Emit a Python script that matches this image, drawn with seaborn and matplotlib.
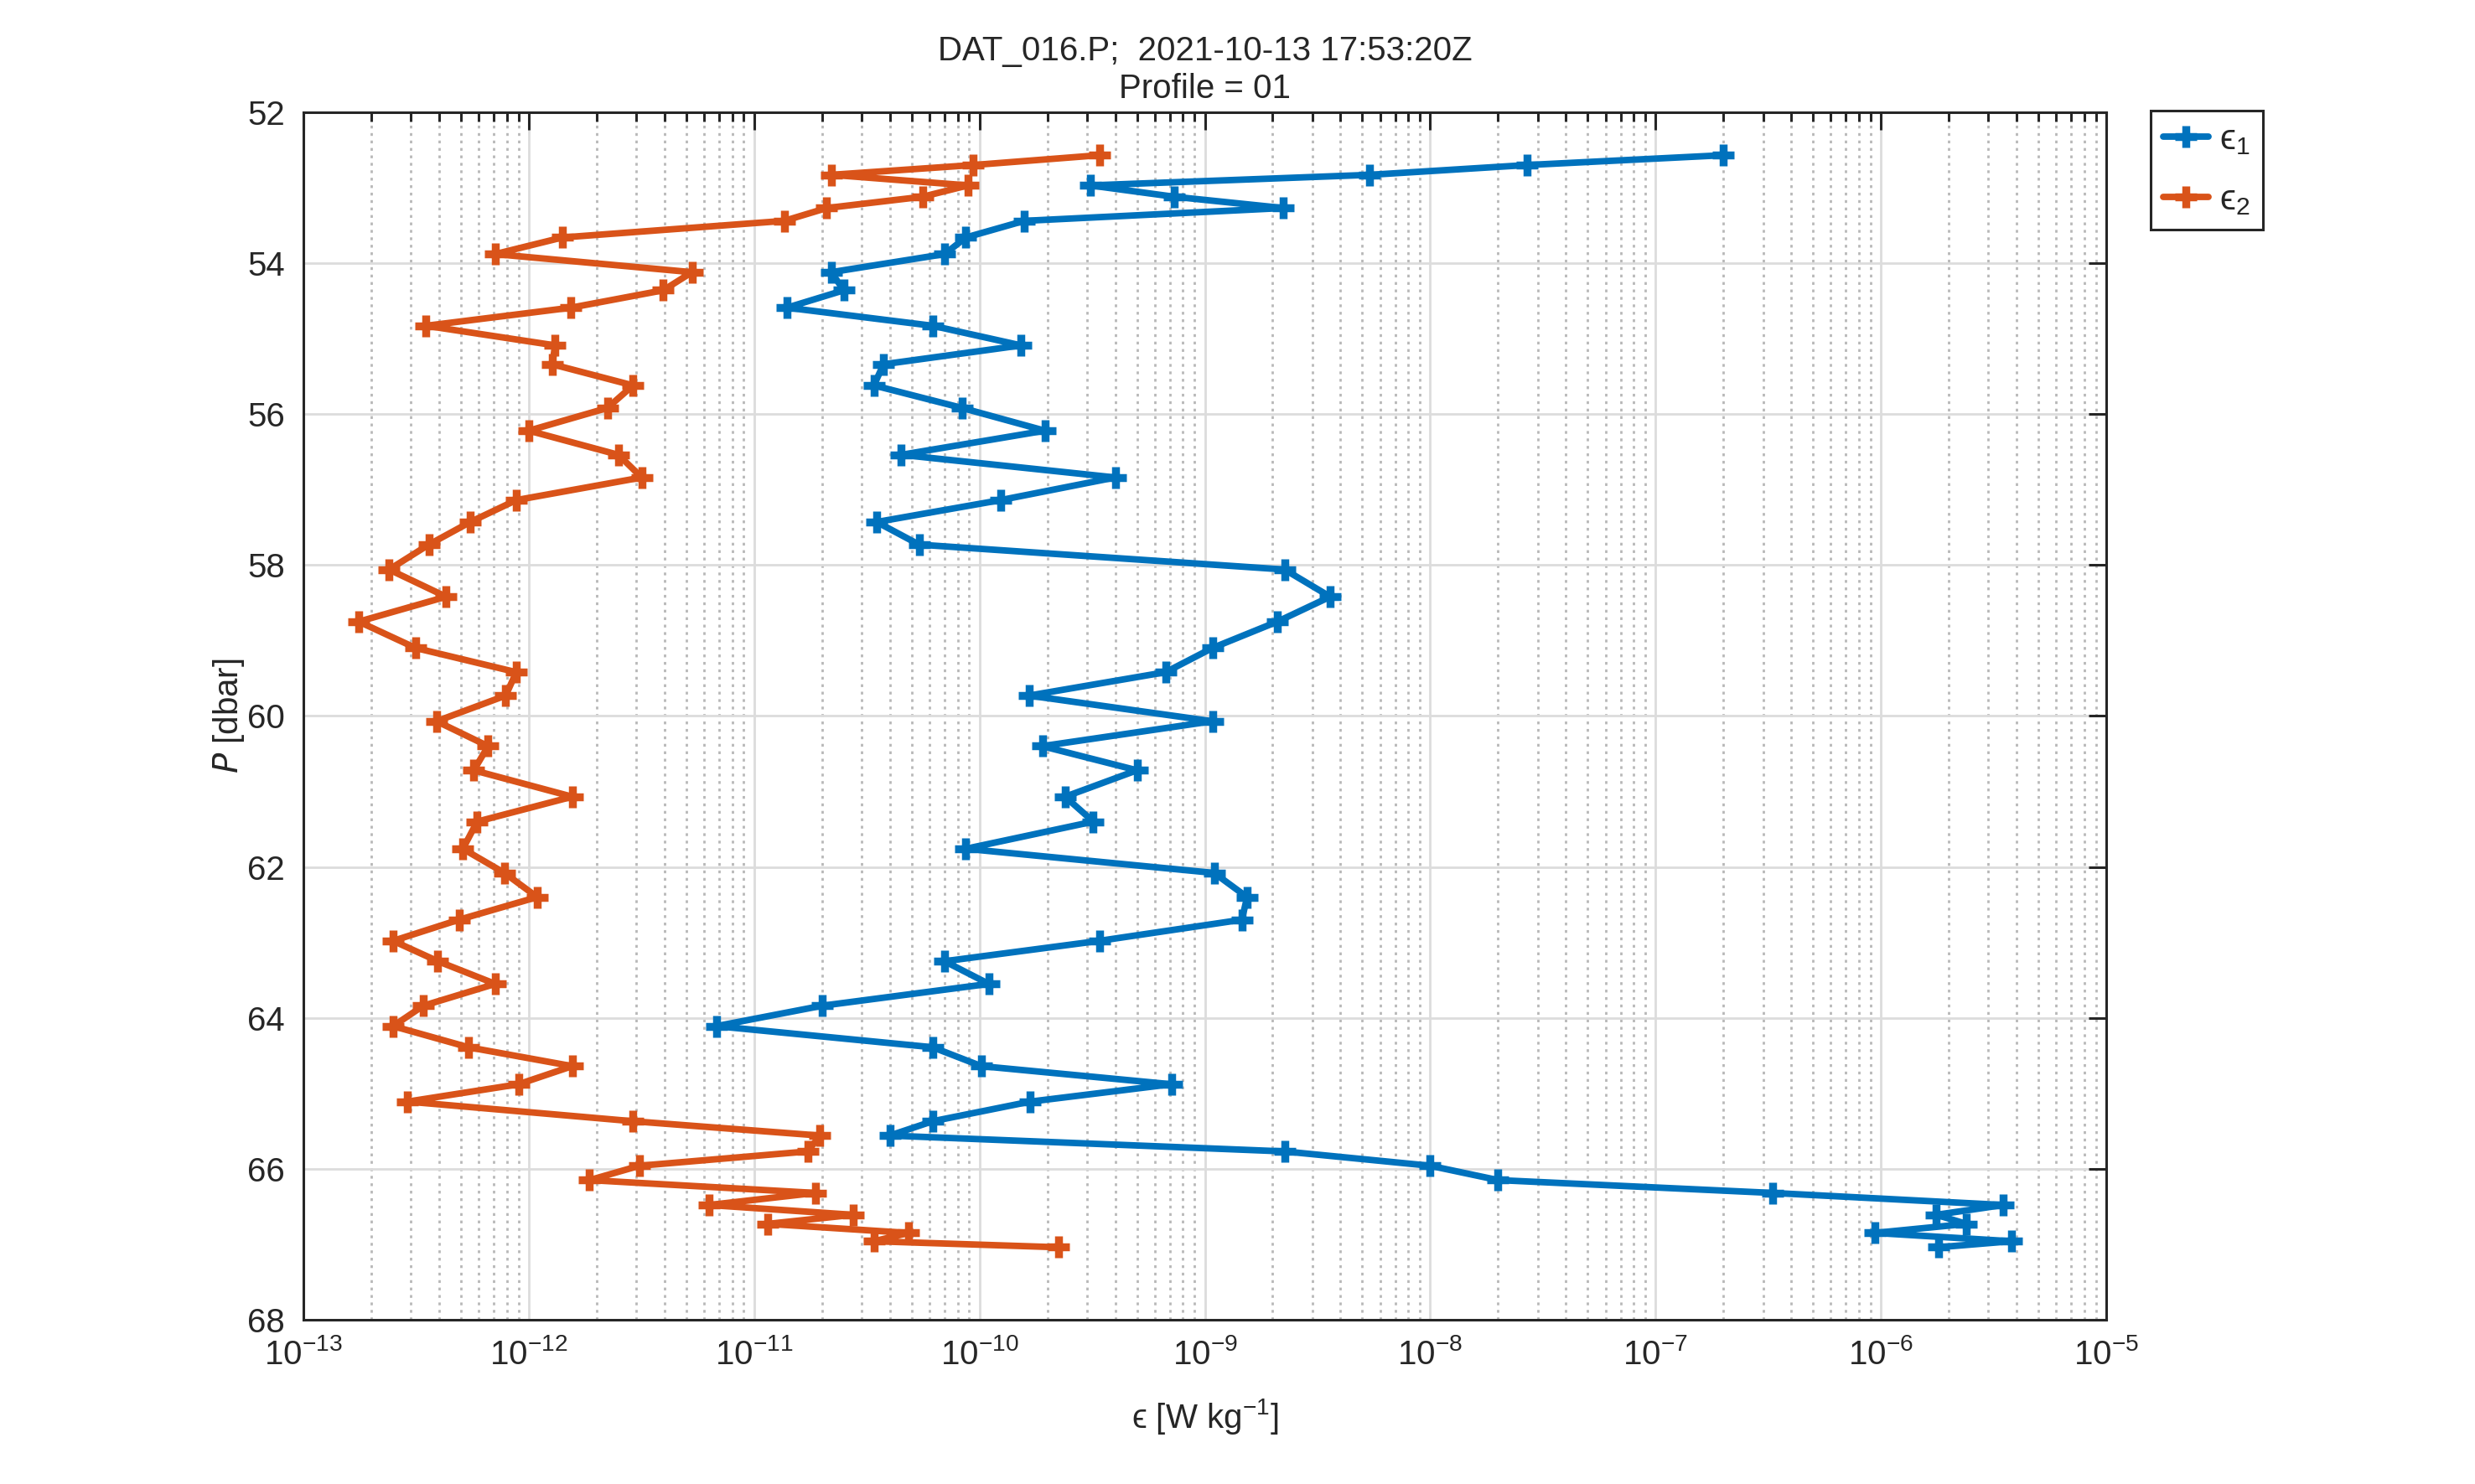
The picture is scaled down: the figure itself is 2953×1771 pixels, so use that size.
import numpy as np
import pandas as pd
import seaborn as sns
import matplotlib.pyplot as plt
from matplotlib.ticker import LogLocator, NullFormatter, FixedLocator

# pressure of each dissipation estimate [dbar]
pressure = [52.57, 52.70, 52.83, 52.97, 53.12, 53.27, 53.44, 53.66, 53.88, 54.12,
            54.36, 54.59, 54.83, 55.09, 55.34, 55.62, 55.92, 56.22, 56.54, 56.84,
            57.14, 57.43, 57.73, 58.06, 58.42, 58.75, 59.10, 59.42, 59.73, 60.07,
            60.40, 60.72, 61.07, 61.40, 61.76, 62.08, 62.40, 62.70, 62.98, 63.25,
            63.55, 63.84, 64.11, 64.39, 64.64, 64.88, 65.11, 65.37, 65.56, 65.77,
            65.96, 66.15, 66.32, 66.48, 66.61, 66.73, 66.85, 66.96, 67.04]

# shear probe 1
eps1 = [2.0e-7, 2.7e-8, 5.4e-9, 3.1e-10, 7.3e-10, 2.23e-9, 1.58e-10, 8.7e-11, 7.0e-11, 2.2e-11,
        2.5e-11, 1.4e-11, 6.2e-11, 1.53e-10, 3.75e-11, 3.4e-11, 8.4e-11, 1.95e-10, 4.5e-11, 4.0e-10,
        1.24e-10, 3.5e-11, 5.4e-11, 2.26e-9, 3.6e-9, 2.1e-9, 1.08e-9, 6.7e-10, 1.66e-10, 1.08e-9,
        1.9e-10, 5.0e-10, 2.4e-10, 3.2e-10, 8.7e-11, 1.1e-9, 1.54e-9, 1.46e-9, 3.4e-10, 7.0e-11,
        1.1e-10, 2.0e-11, 6.8e-12, 6.2e-11, 1.02e-10, 7.1e-10, 1.68e-10, 6.2e-11, 4.0e-11, 2.26e-9,
        1.0e-8, 2.0e-8, 3.3e-7, 3.5e-6, 1.76e-6, 2.4e-6, 9.4e-7, 3.8e-6, 1.8e-6]

# shear probe 2
eps2 = [3.4e-10, 9.4e-11, 2.2e-11, 8.9e-11, 5.6e-11, 2.1e-11, 1.36e-11, 1.41e-12, 7.1e-13, 5.3e-12,
        3.95e-12, 1.54e-12, 3.5e-13, 1.31e-12, 1.27e-12, 2.9e-12, 2.23e-12, 1.0e-12, 2.5e-12, 3.17e-12,
        8.8e-13, 5.5e-13, 3.6e-13, 2.4e-13, 4.3e-13, 1.76e-13, 3.15e-13, 8.8e-13, 7.9e-13, 3.9e-13,
        6.6e-13, 5.7e-13, 1.56e-12, 5.9e-13, 5.1e-13, 7.8e-13, 1.09e-12, 4.9e-13, 2.5e-13, 3.95e-13,
        7.1e-13, 3.4e-13, 2.5e-13, 5.4e-13, 1.56e-12, 9.0e-13, 2.9e-13, 2.9e-12, 1.96e-11, 1.73e-11,
        3.1e-12, 1.86e-12, 1.87e-11, 6.3e-12, 2.75e-11, 1.15e-11, 4.85e-11, 3.4e-11, 2.25e-10]

labels = ['\u03f5$_{\\mathdefault{1}}$', '\u03f5$_{\\mathdefault{2}}$']
colors = ['#0072BD', '#D95319']
yticks = [52, 54, 56, 58, 60, 62, 64, 66, 68]
title = 'DAT_016.P;  2021-10-13 17:53:20Z\nProfile = 01'

sns.set_style('white')
plt.rcParams['font.family'] = ['Liberation Sans', 'DejaVu Sans']
plt.rcParams['mathtext.fontset'] = 'dejavusans'
plt.rcParams['axes.linewidth'] = 1.1
plt.rcParams['axes.edgecolor'] = '#262626'

df = pd.DataFrame({'P': pressure * 2,
                   'eps': eps1 + eps2,
                   'probe': [labels[0]] * len(eps1) + [labels[1]] * len(eps2)})

fig = plt.figure(figsize=(14.765, 8.855), dpi=200)
ax = fig.add_axes([0.1226, 0.1107, 0.7284, 0.8137])

for lab, col in zip(labels, colors):
    sns.lineplot(data=df[df['probe'] == lab], x='eps', y='P', orient='y', sort=False,
                 estimator=None, color=col, linewidth=2.8, marker='+', markersize=9.5,
                 markeredgewidth=3.4, markeredgecolor=col, markerfacecolor=col,
                 label=lab, ax=ax)

ax.set_xscale('log')
ax.set_xlim(1e-13, 1e-5)
ax.set_ylim(68, 52)
ax.yaxis.set_major_locator(FixedLocator(yticks))
ax.xaxis.set_major_locator(LogLocator(base=10, numticks=20))
ax.xaxis.set_minor_locator(LogLocator(base=10, subs=np.arange(2, 10), numticks=200))
ax.xaxis.set_minor_formatter(NullFormatter())

ax.grid(True, which='major', color='#dcdcdc', linewidth=1.0, linestyle='-')
ax.grid(True, which='minor', axis='x', color='#b8b8b8', linewidth=1.0, linestyle=(0, (1.2, 2.0)))
ax.set_axisbelow(True)

ax.tick_params(which='both', direction='in', top=True, right=True, colors='#262626',
               labelsize=14.5, width=1.1)
ax.tick_params(which='major', length=7.5, pad=8)
ax.tick_params(which='minor', length=3.8)
for t in ax.get_xticklabels() + ax.get_yticklabels():
    t.set_color('#262626')

ax.set_xlabel('\u03f5 [W kg$^{\\mathdefault{-1}}$]', fontsize=14.5, color='#262626', labelpad=11)
ax.set_ylabel(r'$P$ [dbar]', fontsize=14.5, color='#262626', labelpad=0.5)
ax.set_title(title, fontsize=14.5, pad=6, linespacing=1.25)

ax.legend(loc='upper left', bbox_to_anchor=(0.869, 0.9255), bbox_transform=fig.transFigure,
          borderaxespad=0, fancybox=False, framealpha=1, edgecolor='#262626',
          fontsize=15.5, handlelength=1.25, labelspacing=0.75, borderpad=0.35, handletextpad=0.3)
ax.get_legend().get_frame().set_linewidth(1.1)

fig.savefig('out.png', dpi=200)
